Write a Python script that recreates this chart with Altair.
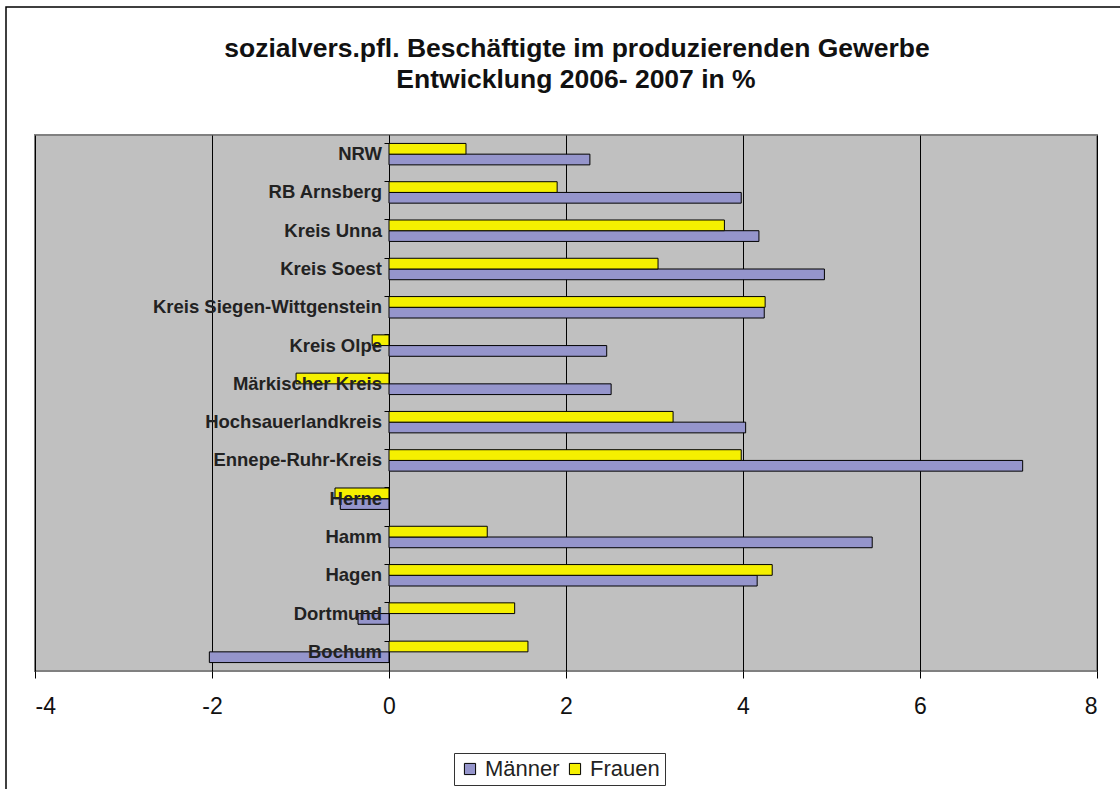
import altair as alt
import pandas as pd

regions = ["NRW", "RB Arnsberg", "Kreis Unna", "Kreis Soest", "Kreis Siegen-Wittgenstein",
           "Kreis Olpe", "Märkischer Kreis", "Hochsauerlandkreis", "Ennepe-Ruhr-Kreis",
           "Herne", "Hamm", "Hagen", "Dortmund", "Bochum"]
maenner = [2.27, 3.98, 4.18, 4.92, 4.24, 2.46, 2.51, 4.03, 7.16, -0.55, 5.46, 4.16, -0.35, -2.03]
frauen = [0.87, 1.90, 3.79, 3.04, 4.25, -0.19, -1.05, 3.21, 3.98, -0.61, 1.11, 4.33, 1.42, 1.57]
series = ["Männer", "Frauen"]
x_ticks = [-4, -2, 0, 2, 4, 6, 8]
title_lines = ["sozialvers.pfl. Beschäftigte im produzierenden Gewerbe", "Entwicklung 2006- 2007 in %"]

rows = []
for r, m, f in zip(regions, maenner, frauen):
    rows.append({"Region": r, "Serie": "Männer", "Wert": m})
    rows.append({"Region": r, "Serie": "Frauen", "Wert": f})
df = pd.DataFrame(rows)
labels = pd.DataFrame({"Region": regions})

FONT = "Liberation Sans"
x_scale = alt.Scale(domain=[-4, 8], nice=False)
y_scale = alt.Scale(domain=regions, paddingInner=0.44, paddingOuter=0.22)

bars = alt.Chart(df).mark_bar(stroke="black", strokeWidth=1).encode(
    x=alt.X("Wert:Q", scale=x_scale,
            axis=alt.Axis(values=x_ticks, title=None, grid=True, gridColor="black", gridWidth=1,
                          domain=False, tickColor="black", tickSize=7, labelFontSize=23,
                          labelColor="#111", labelFont=FONT, labelPadding=17,
                          labelExpr="'' + datum.value")),
    x2=alt.datum(0),
    y=alt.Y("Region:N", scale=y_scale,
            axis=alt.Axis(title=None, labels=False, offset=-354, bandPosition=0,
                          domainColor="black", domainWidth=1, tickColor="black", tickSize=5,
                          grid=False)),
    yOffset=alt.YOffset("Serie:N", scale=alt.Scale(domain=["Frauen", "Männer"], paddingInner=0, paddingOuter=0)),
    color=alt.Color("Serie:N", scale=alt.Scale(domain=series, range=["#9595CB", "#F5F000"]),
                    legend=alt.Legend(title=None, orient="none", legendX=419, legendY=618,
                                      direction="horizontal", strokeColor="#333", fillColor="white",
                                      padding=5, labelFontSize=22, labelFont=FONT, labelColor="#222",
                                      symbolType="square", symbolSize=125, symbolStrokeColor="black",
                                      symbolStrokeWidth=1, symbolOpacity=1, labelOffset=4,
                                      columnPadding=4)),
)

text = alt.Chart(labels).mark_text(align="right", baseline="middle", dx=-7, fontSize=18.5,
                                   fontWeight="bold", font=FONT, color="#222").encode(
    x=alt.datum(0),
    y=alt.Y("Region:N", scale=y_scale),
    text="Region:N",
)

one = pd.DataFrame({"a": [0]})
frame = alt.Chart(one).mark_rect(fill=None, stroke="black", strokeWidth=1.5).encode(
    x=alt.value(-29), x2=alt.value(1095), y=alt.value(-128), y2=alt.value(664)
)

title1 = alt.Chart(one).mark_text(text=title_lines[0], fontSize=26.5, font=FONT, fontWeight="bold",
                                  color="#111", align="center", baseline="alphabetic").encode(
    x=alt.value(542), y=alt.value(-78)
)
title2 = alt.Chart(one).mark_text(text=title_lines[1], fontSize=26.5, font=FONT, fontWeight="bold",
                                  color="#111", align="center", baseline="alphabetic").encode(
    x=alt.value(541), y=alt.value(-47)
)

chart = alt.layer(bars, text, frame, title1, title2).properties(
    width=1062, height=536,
    background="white",
    autosize=alt.AutoSizeParams(type="none"),
    padding={"left": 35, "top": 135, "right": 23, "bottom": 118},
).configure_view(fill="#C0C0C0", stroke="#808080", strokeWidth=2)

chart.save("out.html", embed_options={"renderer": "svg", "actions": False})
